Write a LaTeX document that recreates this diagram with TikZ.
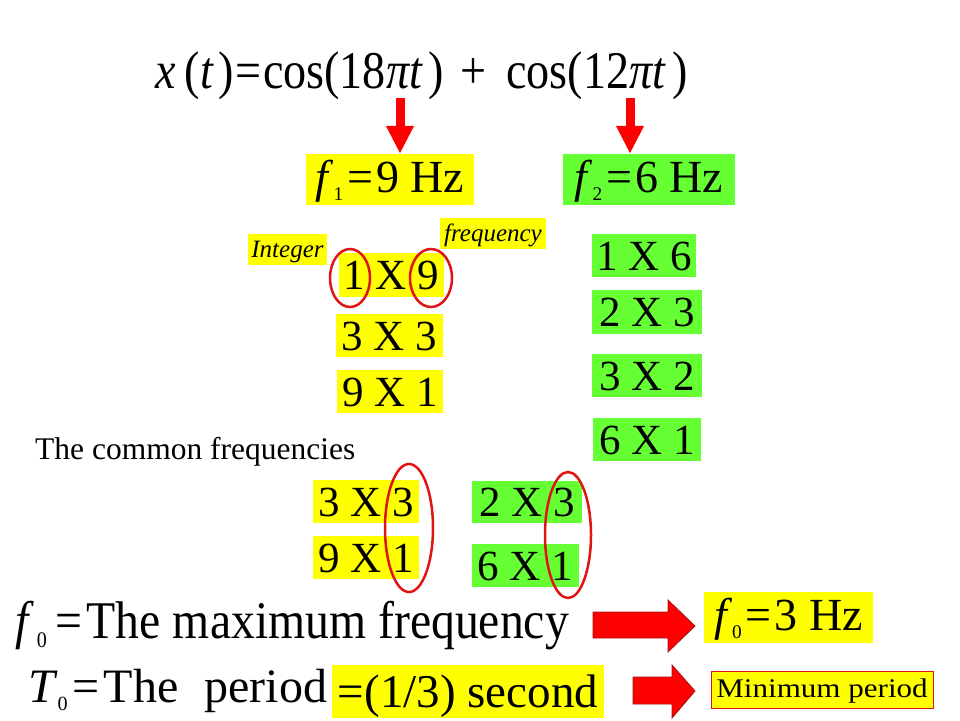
\documentclass[tikz,border=0pt]{standalone}
\usepackage{fontspec}
\setmainfont{Liberation Serif}
\newfontfamily\widefont[FakeStretch=1.15]{Liberation Serif}
\newfontfamily\narrowfont[FakeStretch=0.9]{Liberation Serif}
\newfontfamily\eqfont[FakeStretch=0.87]{Liberation Serif}
\usepackage{graphicx}
\usetikzlibrary{shapes.geometric,arrows.meta}
\newcommand{\fs}[1]{\fontsize{#1}{#1}\selectfont}
\newcommand{\lowsub}[1]{\raisebox{-0.18em}{\scalebox{0.42}{#1}}}
\definecolor{hlyellow}{RGB}{255,255,0}
\definecolor{hlgreen}{RGB}{102,255,51}
\definecolor{ringred}{RGB}{225,20,20}
\definecolor{arrowred}{RGB}{255,0,0}
\definecolor{arrowedge}{RGB}{160,20,20}
\begin{document}
\begin{tikzpicture}[x=1pt,y=-1pt,
  hbox/.style={inner sep=0pt, text height=29pt, text depth=0pt, font=\fs{43}},
  ybox/.style={hbox, fill=hlyellow},
  gbox/.style={hbox, fill=hlgreen},
  fbox/.style={inner sep=0pt, text height=31pt, text depth=6pt, font=\fs{46}, minimum width=168, minimum height=51},
  lab/.style={fill=hlyellow, inner sep=0pt, minimum height=31, font=\fs{25}\itshape, text height=18pt, text depth=3pt},
  ring/.style={ellipse, draw=ringred, line width=2.5pt, inner sep=0pt},
  downarrow/.style={draw=arrowred, line width=9pt, -{Triangle[width=26pt,length=28pt]}},
  bigarrow/.style={fill=arrowred, draw=arrowedge, line width=0.8pt, line join=miter},
  plain/.style={inner sep=0pt, anchor=base west}]
\useasboundingbox[fill=white] (0,0) rectangle (960,720);

% equation
\node[plain, font=\fs{53}\eqfont] (eq) at (155,88) {\textit{x}\hspace{9pt}(\textit{t}\hspace{5pt})\hspace{1pt}=\hspace{2pt}cos(18\textit{πt}\hspace{6pt})\hspace{16pt}+\hspace{20pt}cos(12\textit{πt}\hspace{6pt})};
\coordinate (a1) at (400,98);
\coordinate (a2) at (630,98);

% frequencies
\node[fbox, fill=hlyellow] (f1) at (390,179.5) {\textit{f}\lowsub{1}\hspace{4pt}=\hspace{3pt}9 Hz};
\node[fbox, fill=hlgreen, minimum width=172] (f2) at (649,179.5) {\textit{f}\lowsub{2}\hspace{4pt}=\hspace{3pt}6 Hz};
\draw[downarrow] (a1) -- (a1 |- f1.north);
\draw[downarrow] (a2) -- (a2 |- f2.north);

% labels
\node[lab, minimum width=79] (lint) at (287.5,249.5) {Integer};
\node[lab, minimum width=106] (lfreq) at (493,233.5) {frequency};

% factor boxes of 9
\node[ybox, minimum width=105, minimum height=44] (y19) at (391.5,275) {1 X 9};
\node[ybox, minimum width=107, minimum height=43] (y33) at (389.5,335.5) {3 X 3};
\node[ybox, minimum width=106, minimum height=43] (y91) at (390,391.5) {9 X 1};
\node[ring, minimum width=40, minimum height=58] (r1) at (350,278) {};
\node[ring, minimum width=42, minimum height=58] (r9) at (431,278) {};

% factor boxes of 6
\node[gbox, minimum width=104, minimum height=43] (g16) at (644,255.5) {1 X 6};
\node[gbox, minimum width=110, minimum height=44] (g23) at (647,312) {2 X 3};
\node[gbox, minimum width=110, minimum height=43] (g32) at (647,375.5) {3 X 2};
\node[gbox, minimum width=108, minimum height=43] (g61) at (647,439.5) {6 X 1};

\node[plain, font=\fs{31.5}] (common) at (35,459) {The common frequencies};

% common
\node[ybox, minimum width=106, minimum height=43] (cy33) at (366,501.5) {3 X 3};
\node[ybox, minimum width=106, minimum height=43] (cy91) at (366,557.5) {9 X 1};
\node[gbox, minimum width=110, minimum height=42] (cg23) at (527,502) {2 X 3};
\node[gbox, minimum width=107, minimum height=43] (cg61) at (525.5,565.5) {6 X 1};
\node[ring, minimum width=48, minimum height=128] (rc1) at (409,528) {};
\node[ring, minimum width=46, minimum height=126] (rc2) at (568,535) {};

% f0 line
\node[plain, font=\fs{53}\narrowfont] (f0line) at (15,638) {\textit{f}\hspace{3pt}\lowsub{0}\hspace{9pt}=\hspace{4pt}The maximum frequency};
\draw[bigarrow] (593,612) -- (668,612) -- (668,600) -- (695,626) -- (668,652) -- (668,638) -- (593,638) -- cycle;
\node[fbox, fill=hlyellow, minimum width=169, minimum height=51] (f0) at (788.5,617.5) {\textit{f}\lowsub{0}\hspace{4pt}=\hspace{3pt}3 Hz};

% T0 line
\node[plain, font=\fs{48}] (t0line) at (28,702) {\textit{T}\lowsub{0}\hspace{5pt}=\hspace{4pt}The\ \ \hspace{2pt}period};
\node[inner sep=0pt, fill=hlyellow, minimum width=272, minimum height=53, font=\fs{47}, text height=36pt, text depth=5pt] (sec) at (468,691.5) {=(1/3) second};
\draw[bigarrow] (633,677) -- (672,677) -- (672,665) -- (695,691) -- (672,718) -- (672,704) -- (633,704) -- cycle;
\node[inner sep=0pt, fill=hlyellow, draw=ringred, line width=1pt, minimum width=222, minimum height=37, font=\fs{27}\widefont, text height=20pt, text depth=5pt] (minp) at (822,689.5) {Minimum period};
\end{tikzpicture}
\end{document}
